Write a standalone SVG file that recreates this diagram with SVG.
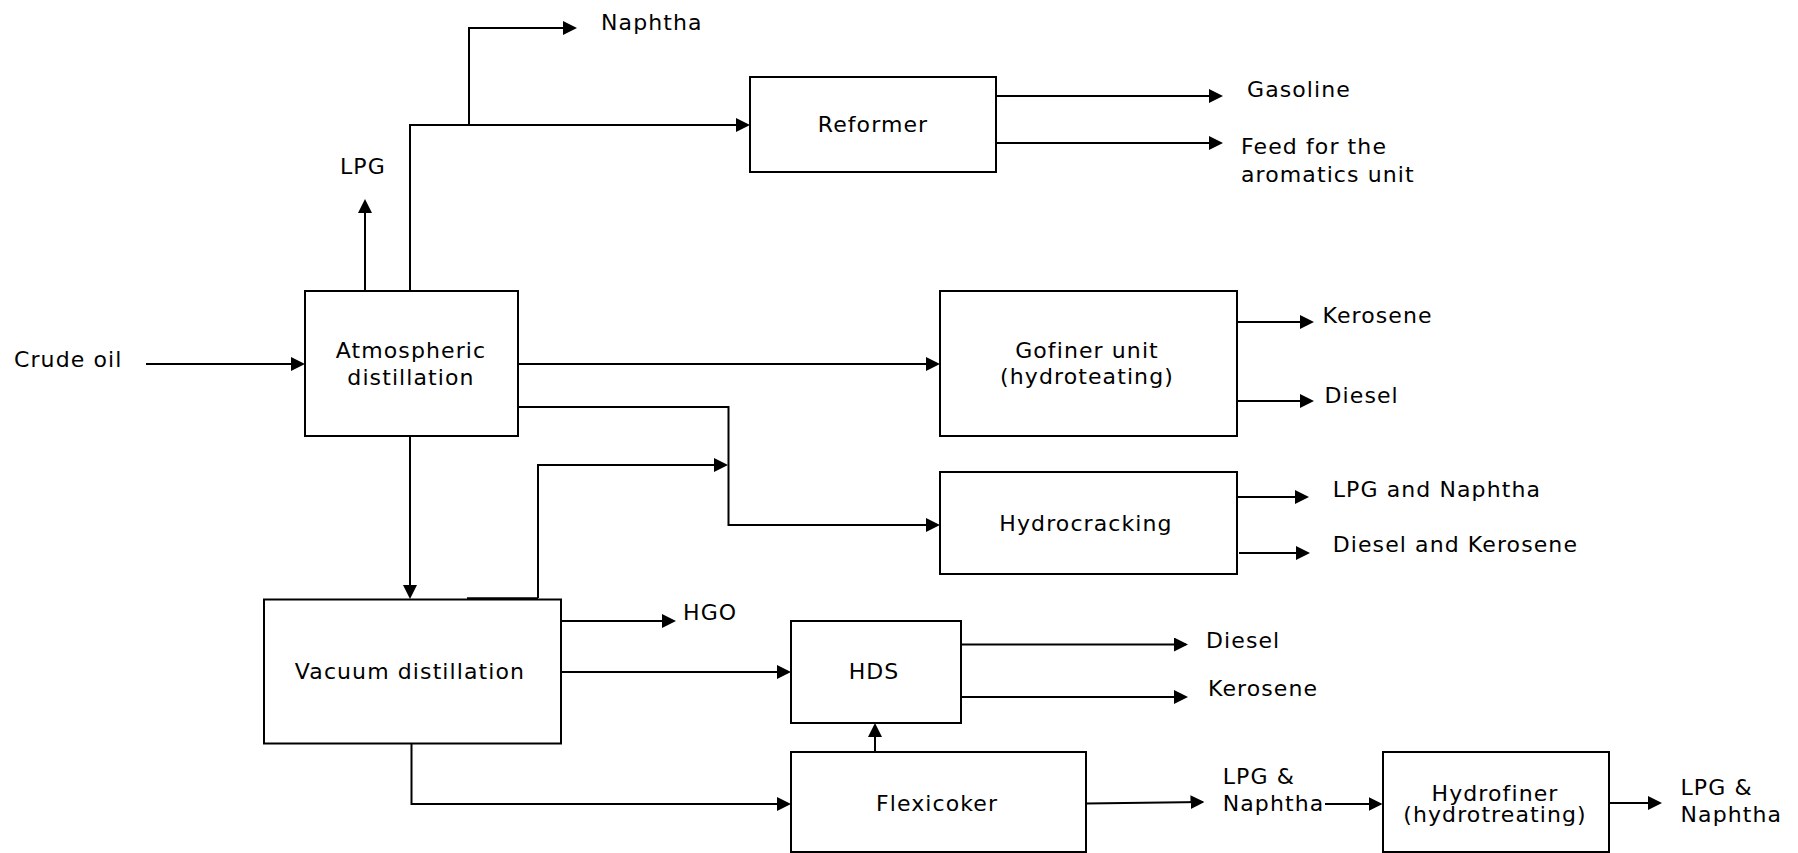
<svg xmlns="http://www.w3.org/2000/svg" width="1798" height="853" viewBox="0 0 1798 853">
<style>
text{font-family:"DejaVu Sans","Liberation Sans",sans-serif;font-size:22px;letter-spacing:1.1px;fill:#000}
.c{text-anchor:middle}
.box{fill:#fff;stroke:#000;stroke-width:2}
.ln{fill:none;stroke:#000;stroke-width:2}
.ar{marker-end:url(#ah)}
</style>
<defs>
<marker id="ah" markerUnits="userSpaceOnUse" markerWidth="14" markerHeight="14" refX="12" refY="7" orient="auto">
<path d="M0,0 L14,7 L0,14 z" fill="#000"/>
</marker>
</defs>
<g id="connectors">
<path class="ln ar" d="M146,364 H303"/>
<path class="ln ar" d="M365,291 V201"/>
<path class="ln ar" d="M410,291 V125 H748"/>
<path class="ln ar" d="M469,125 V28 H575"/>
<path class="ln ar" d="M996,96 H1221"/>
<path class="ln ar" d="M996,143 H1221"/>
<path class="ln ar" d="M518,364 H938"/>
<path class="ln ar" d="M518,407 H728.5 V525 H938"/>
<path class="ln" d="M467,598.5 H538" style="stroke-width:2.5"/>
<path class="ln ar" d="M538,598 V465 H726"/>
<path class="ln ar" d="M410,436 V597"/>
<path class="ln ar" d="M1237,322 H1312"/>
<path class="ln ar" d="M1237,401 H1312"/>
<path class="ln ar" d="M1237,497 H1307"/>
<path class="ln ar" d="M1239,553 H1308"/>
<path class="ln ar" d="M561,621 H674"/>
<path class="ln ar" d="M561,672 H789"/>
<path class="ln ar" d="M961,644.5 H1186"/>
<path class="ln ar" d="M961,697 H1186"/>
<path class="ln ar" d="M411.5,744 V804 H789"/>
<path class="ln ar" d="M875,752 V725"/>
<path class="ln ar" d="M1086,803.5 L1202.5,802"/>
<path class="ln ar" d="M1325,804 H1380.5"/>
<path class="ln ar" d="M1609.5,803 H1660"/>
</g>
<g id="atmospheric">
<rect class="box" x="305" y="291" width="213" height="145"/>
<text class="c" x="411" y="357.5">Atmospheric</text>
<text class="c" x="411" y="385">distillation</text>
</g>
<g id="reformer">
<rect class="box" x="750" y="77" width="246" height="95"/>
<text class="c" x="873" y="132">Reformer</text>
</g>
<g id="gofiner">
<rect class="box" x="940" y="291" width="297" height="145"/>
<text class="c" x="1087" y="357.5">Gofiner unit</text>
<text class="c" x="1087" y="384">(hydroteating)</text>
</g>
<g id="hydrocracking">
<rect class="box" x="940" y="472" width="297" height="102"/>
<text class="c" x="1086" y="531">Hydrocracking</text>
</g>
<g id="vacuum">
<rect class="box" x="264" y="599.5" width="297" height="144"/>
<text class="c" x="410" y="679">Vacuum distillation</text>
</g>
<g id="hds">
<rect class="box" x="791" y="621" width="170" height="102"/>
<text class="c" x="874" y="679">HDS</text>
</g>
<g id="flexicoker">
<rect class="box" x="791" y="752" width="295" height="100"/>
<text class="c" x="937" y="811">Flexicoker</text>
</g>
<g id="hydrofiner">
<rect class="box" x="1383" y="752" width="226" height="100"/>
<text class="c" x="1495" y="800.5">Hydrofiner</text>
<text class="c" x="1495" y="822">(hydrotreating)</text>
</g>
<g id="labels">
<text x="601" y="29.5">Naphtha</text>
<text x="340" y="174">LPG</text>
<text x="14" y="367">Crude oil</text>
<text x="1247" y="97">Gasoline</text>
<text x="1241" y="154">Feed for the</text>
<text x="1241" y="181.5">aromatics unit</text>
<text x="1322.5" y="323">Kerosene</text>
<text x="1324.5" y="403">Diesel</text>
<text x="1332.7" y="497.3">LPG and Naphtha</text>
<text x="1332.7" y="551.7">Diesel and Kerosene</text>
<text x="683" y="620">HGO</text>
<text x="1206" y="647.5">Diesel</text>
<text x="1208" y="696">Kerosene</text>
<text x="1222.7" y="784.3">LPG &amp;</text>
<text x="1222.7" y="811">Naphtha</text>
<text x="1680.5" y="795">LPG &amp;</text>
<text x="1680.5" y="821.7">Naphtha</text>
</g>
</svg>
